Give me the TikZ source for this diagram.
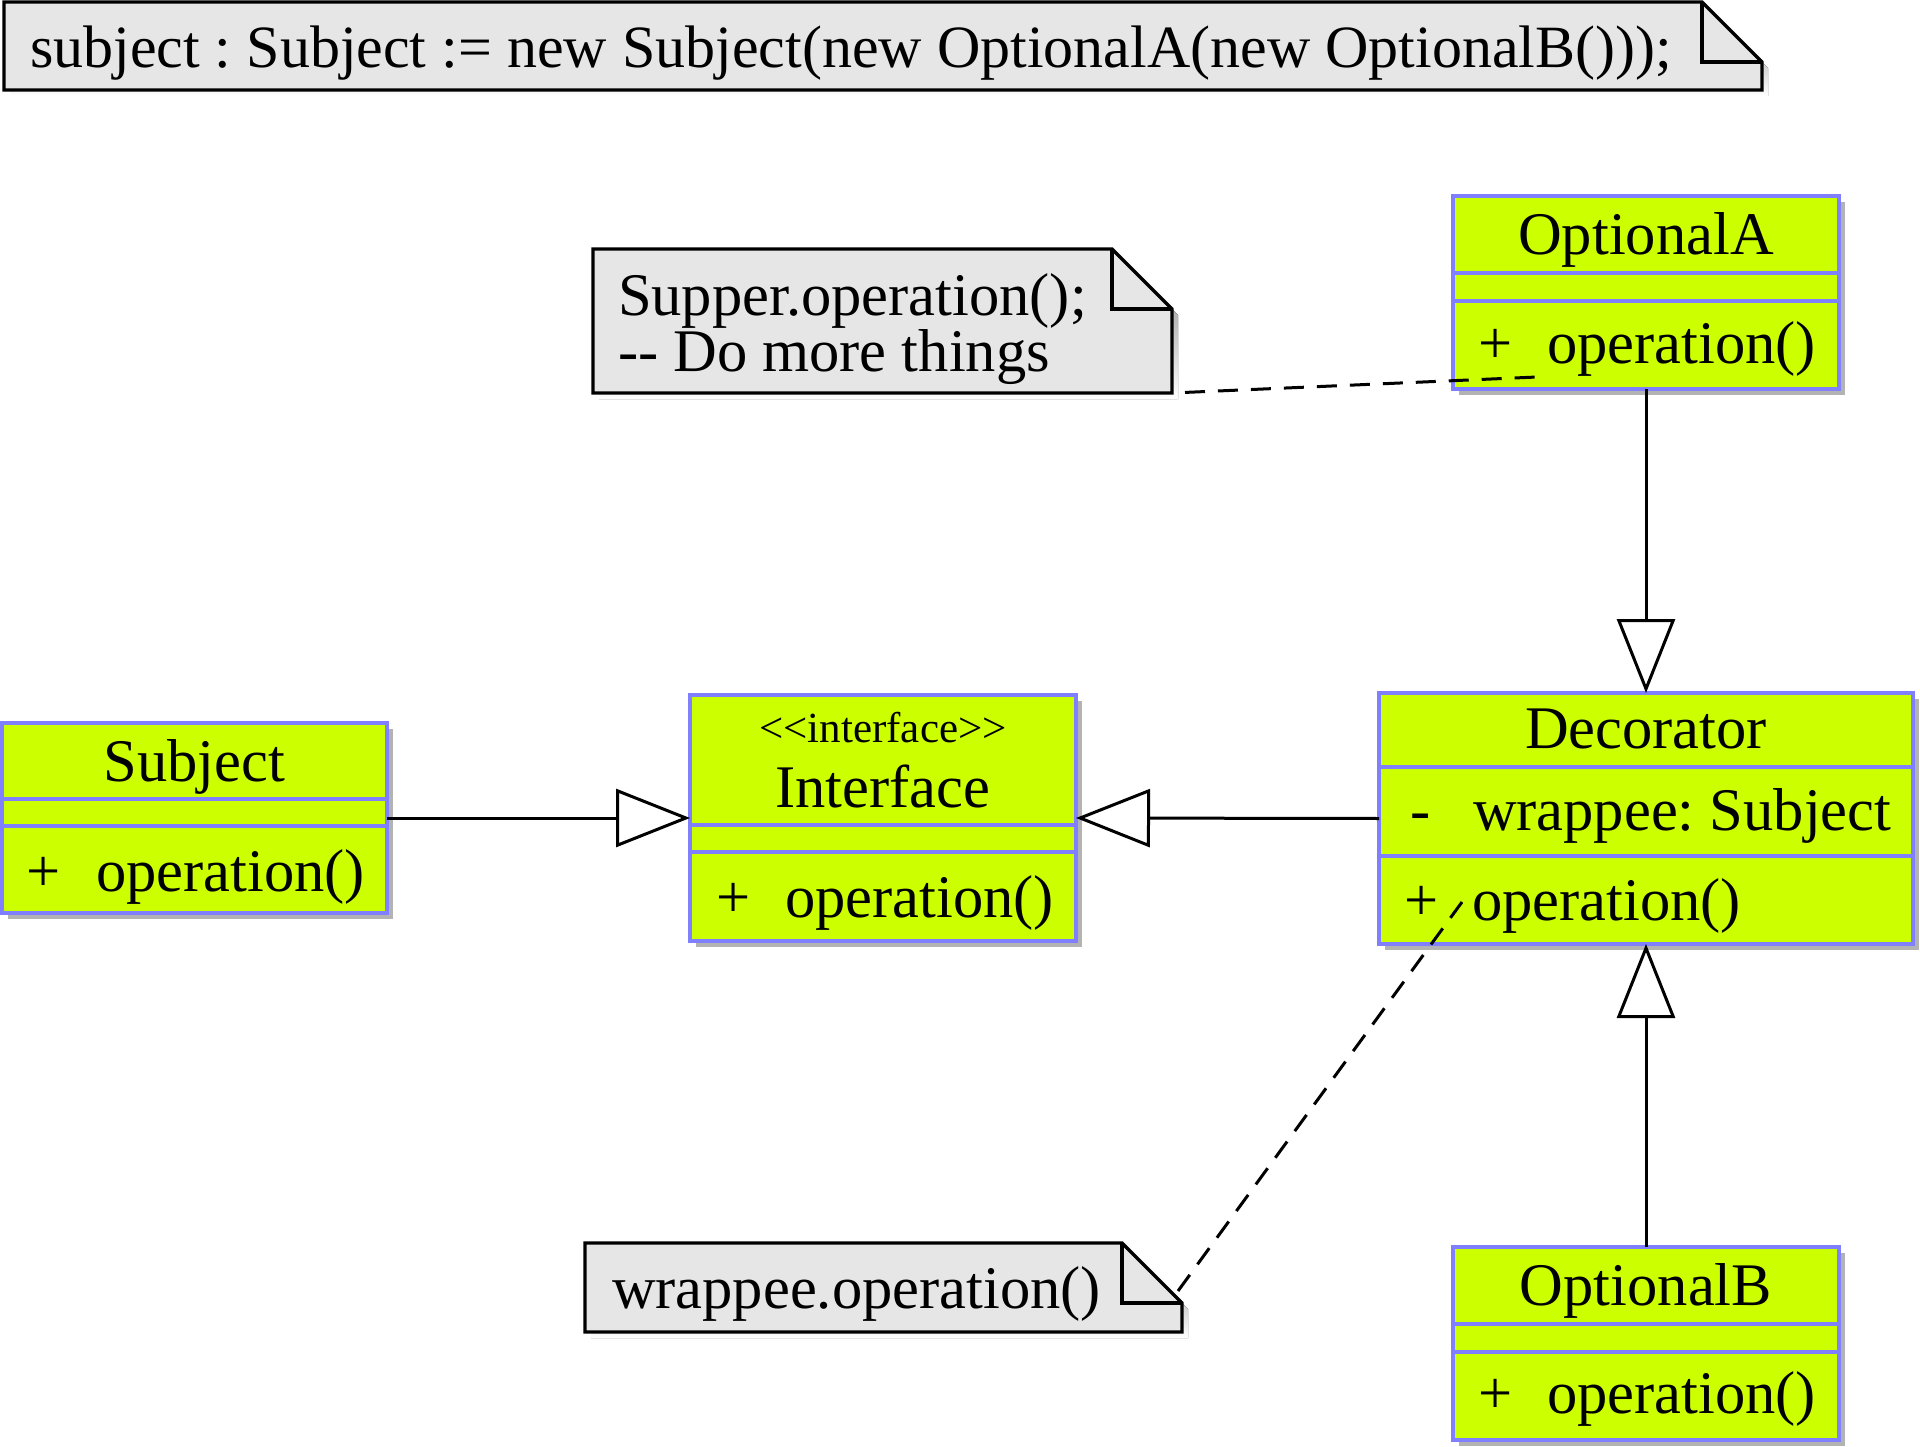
\documentclass[tikz,border=0pt]{standalone}
\usepackage{fontspec}
\setmainfont{Liberation Serif}[Ligatures=TeXOff]
\usetikzlibrary{arrows.meta,shadows}
\definecolor{lime}{HTML}{CCFF00}
\definecolor{clsborder}{HTML}{8080FF}
\definecolor{notefill}{HTML}{E6E6E6}
\definecolor{shade}{HTML}{B3B3B3}
\frenchspacing
\begin{document}
\begin{tikzpicture}[x=1pt,y=-1pt,
  cls/.style={draw=clsborder, fill=lime, line width=3.3pt, inner sep=0pt, outer sep=0pt,
    drop shadow={shadow xshift=6pt, shadow yshift=-6pt, fill=shade, opacity=1}},
  sepline/.style={draw=clsborder, line width=3.3pt},
  notebox/.style={inner sep=0pt, outer sep=0pt},
  txt/.style={inner sep=0pt, outer sep=0pt, font=\fontsize{60.5}{66}\selectfont},
  stereo/.style={inner sep=0pt, outer sep=0pt, font=\fontsize{43}{48}\selectfont},
  gen/.style={line width=3pt, draw=black, -{Triangle[length=74pt, width=58pt, fill=white]}},
  dashline/.style={line width=3pt, draw=black, dash pattern=on 20pt off 13pt},
  noteline/.style={draw=black, line width=3.3pt, line join=miter},
]
\useasboundingbox (0,0) rectangle (1920,1447);

% ---------- notes ----------
\node[notebox, minimum width=1758pt, minimum height=88pt] (n0) at (883,46) {};
\node[notebox, minimum width=579pt, minimum height=144pt] (n1) at (882.5,321) {};
\node[notebox, minimum width=597pt, minimum height=89pt] (n2) at (883.5,1287.5) {};
\foreach \n in {n0,n1,n2}{
  \fill[shade] ([shift={(6,6)}]\n.north west) -- ([shift={(-54,6)}]\n.north east)
     -- ([shift={(6,66)}]\n.north east) -- ([shift={(6,6)}]\n.south east)
     -- ([shift={(6,6)}]\n.south west) -- cycle;
  \filldraw[fill=notefill, noteline] (\n.north west) -- ([xshift=-60pt]\n.north east)
     -- ([yshift=-60pt]\n.north east) -- (\n.south east) -- (\n.south west) -- cycle;
  \draw[noteline] ([xshift=-60pt]\n.north east) |- ([yshift=-60pt]\n.north east);
}
\node[txt, anchor=base west, font=\fontsize{60}{66}\selectfont] (n0t) at (30,68) {subject : Subject := new Subject(new OptionalA(new OptionalB()));};
\node[txt, anchor=base west] (n1t) at (618,316) {Supper.operation();};
\node[txt, anchor=base west] (n1u) at (618,371) {-- Do more things};
\node[txt, anchor=base west] (n2t) at (612,1308) {wrappee.operation()};

% ---------- classes ----------
\node[cls, minimum width=385pt, minimum height=190pt] (subj) at (194.5,818) {};
\node[cls, minimum width=386pt, minimum height=246pt] (intf) at (883,818) {};
\node[cls, minimum width=534pt, minimum height=251pt] (dec) at (1646,818.5) {};
\node[cls, minimum width=386pt, minimum height=193pt] (optA) at (1646,292.5) {};
\node[cls, minimum width=386pt, minimum height=193pt] (optB) at (1646,1343.5) {};

\draw[sepline] (subj.west |- 0,799) -- (subj.east |- 0,799);
\draw[sepline] (subj.west |- 0,826) -- (subj.east |- 0,826);
\draw[sepline] (intf.west |- 0,825) -- (intf.east |- 0,825);
\draw[sepline] (intf.west |- 0,852) -- (intf.east |- 0,852);
\draw[sepline] (dec.west |- 0,767) -- (dec.east |- 0,767);
\draw[sepline] (dec.west |- 0,856) -- (dec.east |- 0,856);
\draw[sepline] (optA.west |- 0,273) -- (optA.east |- 0,273);
\draw[sepline] (optA.west |- 0,301) -- (optA.east |- 0,301);
\draw[sepline] (optB.west |- 0,1324) -- (optB.east |- 0,1324);
\draw[sepline] (optB.west |- 0,1352) -- (optB.east |- 0,1352);

% class texts
\node[txt, anchor=base] (subjN) at (194.5,781) {Subject};
\node[txt, anchor=base west] (subjP) at (27,891) {+};
\node[txt, anchor=base west] (subjO) at (96,891) {operation()};

\node[stereo, anchor=base] (intfS) at (883,742) {<<interface>>};
\node[txt, anchor=base] (intfN) at (883,807) {Interface};
\node[txt, anchor=base west] (intfP) at (716,917) {+};
\node[txt, anchor=base west] (intfO) at (785,917) {operation()};

\node[txt, anchor=base] (decN) at (1646,748) {Decorator};
\node[txt, anchor=base west] (decM) at (1410,830) {-};
\node[txt, anchor=base west] (decA) at (1473,830) {wrappee: Subject};
\node[txt, anchor=base west] (decP) at (1404,920) {+};
\node[txt, anchor=base west] (decO) at (1472,920) {operation()};

\node[txt, anchor=base] (optAN) at (1646,255) {OptionalA};
\node[txt, anchor=base west] (optAP) at (1478,363) {+};
\node[txt, anchor=base west] (optAO) at (1547,363) {operation()};

\node[txt, anchor=base] (optBN) at (1646,1305) {OptionalB};
\node[txt, anchor=base west] (optBP) at (1478,1413) {+};
\node[txt, anchor=base west] (optBO) at (1547,1413) {operation()};

% ---------- connectors ----------
\draw[gen] (subj.east) -- (intf.west);
\draw[gen] (dec.west) -- (intf.east);
\draw[gen] (optA.south) -- (dec.north);
\draw[gen] (optB.north) -- (optB.north |- dec.south);

\coordinate (pA) at (1537,377);
\draw[dashline, dash phase=20pt] (n1.south east) -- (pA);
\coordinate (n2a) at ([xshift=-4pt,yshift=-48pt]n2.north east);
\coordinate (pD) at (1462,902);
\draw[dashline] (n2a) -- (pD);
\end{tikzpicture}
\end{document}
